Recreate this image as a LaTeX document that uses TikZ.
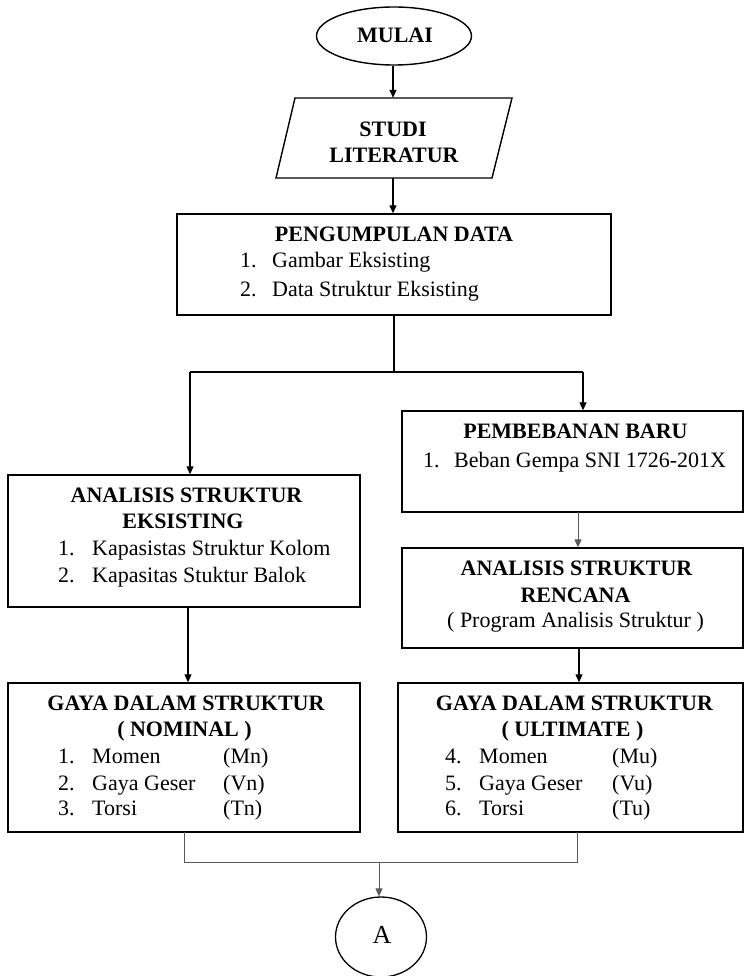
\documentclass[tikz,border=0pt]{standalone}
\usepackage{fontspec}
\setmainfont{Liberation Serif}
\usetikzlibrary{arrows.meta,shapes.geometric}
\begin{document}
\begin{tikzpicture}[x=1pt,y=-1pt,
  box/.style={draw,line width=1.4pt,rectangle,inner sep=0pt},
  ttl/.style={font=\fontsize{22}{26}\selectfont\bfseries,inner sep=0pt,anchor=base},
  txt/.style={font=\fontsize{22}{26}\selectfont,inner sep=0pt,anchor=base west},
  conn/.style={line width=1.2pt,-{Triangle[width=7pt,length=8pt]}},
  gconn/.style={line width=1pt,draw=black!65,-{Triangle[width=7pt,length=8pt]}},
  lnk/.style={line width=1.2pt},
  glnk/.style={line width=1pt,draw=black!65}
]
\useasboundingbox[fill=white] (0,0) rectangle (745,976);

% MULAI
\node[draw,ellipse,line width=1.4pt,minimum width=155,minimum height=58,inner sep=0pt] (mulai) at (394,36) {};
\node[ttl] (tmulai) at (395,43) {MULAI};

% STUDI LITERATUR
\draw[line width=1.4pt] (295,98) -- (512,98) -- (492,178) -- (276,178) -- cycle;
\node[minimum width=217,minimum height=80,inner sep=0pt] (studi) at (393,138) {};
\node[ttl] (tstudi1) at (393,137) {STUDI};
\node[ttl] (tstudi2) at (394,163) {LITERATUR};

% PENGUMPULAN DATA
\node[box,minimum width=434,minimum height=101] (data) at (394,264.5) {};
\node[ttl] (tdata) at (394,241) {PENGUMPULAN DATA};
\node[txt] (d1n) at (240,267) {1.};
\node[txt] (d1) at (272,267) {Gambar Eksisting};
\node[txt] (d2n) at (240,296) {2.};
\node[txt] (d2) at (272,296) {Data Struktur Eksisting};

% ANALISIS STRUKTUR EKSISTING
\node[box,minimum width=352,minimum height=132] (eks) at (184,541) {};
\node[ttl] (teks1) at (186.5,502) {ANALISIS STRUKTUR};
\node[ttl] (teks2) at (183,528) {EKSISTING};
\node[txt] (e1n) at (58,555) {1.};
\node[txt] (e1) at (92,555) {Kapasistas Struktur Kolom};
\node[txt] (e2n) at (58,582) {2.};
\node[txt] (e2) at (92,582) {Kapasitas Stuktur Balok};

% PEMBEBANAN BARU
\node[box,minimum width=341,minimum height=101] (pemb) at (572.5,461.5) {};
\node[ttl] (tpemb) at (575.5,438) {PEMBEBANAN BARU};
\node[txt] (p1n) at (423,467) {1.};
\node[txt] (p1) at (454,467) {Beban Gempa SNI 1726-201X};

% ANALISIS STRUKTUR RENCANA
\node[box,minimum width=341,minimum height=100] (renc) at (572.5,598) {};
\node[ttl] (trenc1) at (576.5,575) {ANALISIS STRUKTUR};
\node[ttl] (trenc2) at (575.5,602) {RENCANA};
\node[font=\fontsize{22}{26}\selectfont,inner sep=0pt,anchor=base] (trenc3) at (575.5,627) {( Program Analisis Struktur )};

% GAYA DALAM STRUKTUR (NOMINAL)
\node[box,minimum width=352,minimum height=149] (nom) at (184,757.5) {};
\node[ttl] (tnom1) at (186,710) {GAYA DALAM STRUKTUR};
\node[ttl] (tnom2) at (184.5,736) {( NOMINAL )};
\node[txt] (n1n) at (58,763) {1.};
\node[txt] (n1) at (92,763) {Momen};
\node[txt] (n1p) at (223,763) {(Mn)};
\node[txt] (n2n) at (58,790) {2.};
\node[txt] (n2) at (92,790) {Gaya Geser};
\node[txt] (n2p) at (223,790) {(Vn)};
\node[txt] (n3n) at (58,815) {3.};
\node[txt] (n3) at (92,815) {Torsi};
\node[txt] (n3p) at (223,815) {(Tn)};

% GAYA DALAM STRUKTUR (ULTIMATE)
\node[box,minimum width=345,minimum height=149] (ult) at (570.5,757.5) {};
\node[ttl] (tult1) at (574.5,710) {GAYA DALAM STRUKTUR};
\node[ttl] (tult2) at (572.5,736) {( ULTIMATE )};
\node[txt] (u1n) at (445,763) {4.};
\node[txt] (u1) at (479,763) {Momen};
\node[txt] (u1p) at (612,763) {(Mu)};
\node[txt] (u2n) at (445,790) {5.};
\node[txt] (u2) at (479,790) {Gaya Geser};
\node[txt] (u2p) at (612,790) {(Vu)};
\node[txt] (u3n) at (445,815) {6.};
\node[txt] (u3) at (479,815) {Torsi};
\node[txt] (u3p) at (612,815) {(Tu)};

% A connector
\node[draw,ellipse,line width=1.3pt,minimum width=91,minimum height=80,inner sep=0pt] (cA) at (381,937) {};
\node[font=\fontsize{26}{30}\selectfont,inner sep=0pt,anchor=base] (tA) at (382,943) {A};

% connectors
\draw[conn] (mulai.south -| studi.north) -- (studi.north);
\draw[conn] (studi.south) -- (studi.south |- data.north);
\coordinate (split) at (394,372);
\coordinate (splitL) at (190,372);
\coordinate (splitR) at (583,372);
\draw[lnk] (data.south) -- (split);
\draw[lnk] (splitL) -- (splitR);
\draw[conn] (splitL) -- (splitL |- eks.north);
\draw[conn] (splitR) -- (splitR |- pemb.north);
\coordinate (pr) at (578,512);
\draw[gconn] (pr) -- (pr |- renc.north);
\coordinate (ru) at (579,648);
\draw[conn] (ru) -- (ru |- ult.north);
\coordinate (en) at (188,607);
\draw[conn] (en) -- (en |- nom.north);
\coordinate (nb) at (184,832);
\coordinate (ub) at (577,832);
\coordinate (mL) at (184,862);
\coordinate (mR) at (577,862);
\coordinate (mC) at (379,862);
\draw[glnk] (nb) -- (mL) -- (mR) -- (ub);
\draw[gconn] (mC) -- (mC |- cA.north);
\end{tikzpicture}
\end{document}
